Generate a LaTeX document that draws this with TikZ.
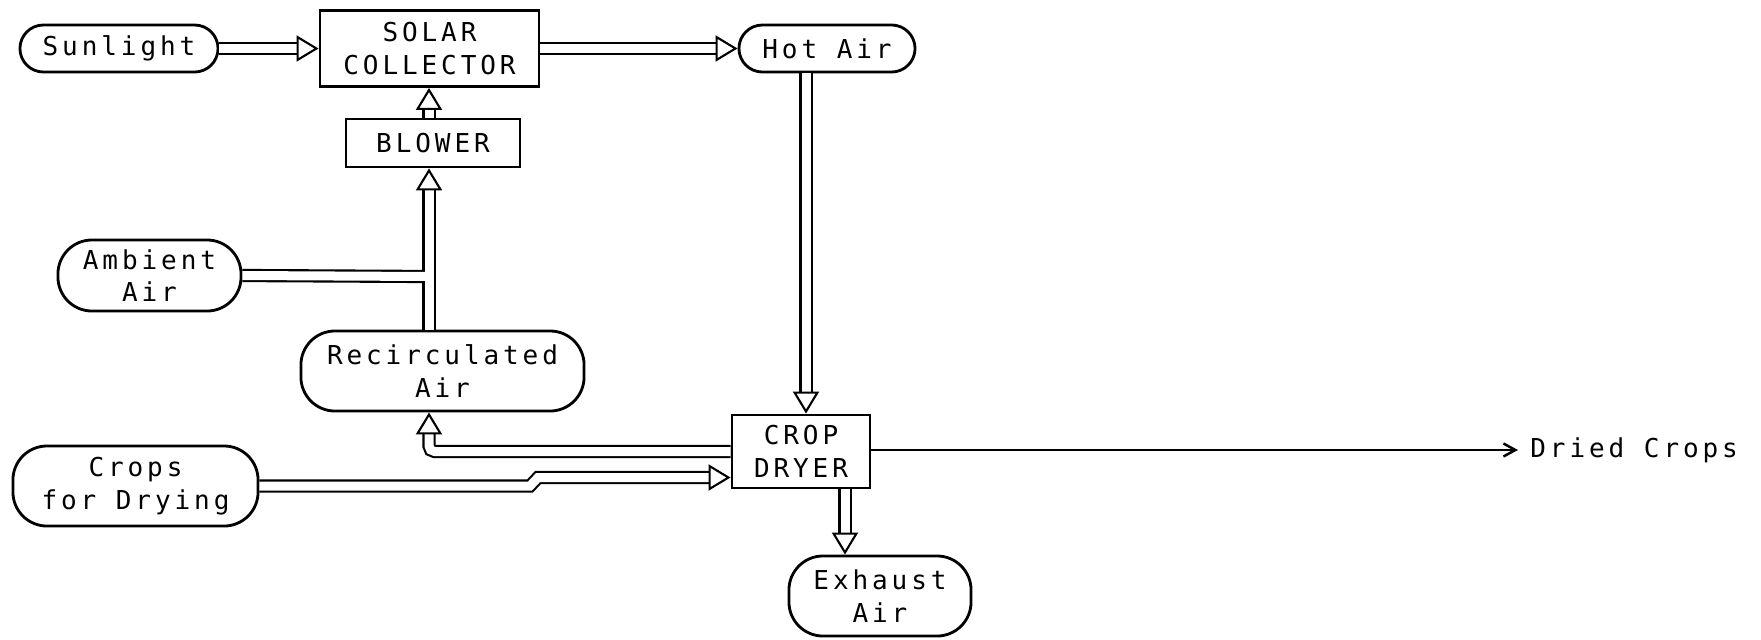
\documentclass[tikz,border=0pt]{standalone}
\usepackage{fontspec}
\newfontfamily\impfont[LetterSpace=15]{DejaVu Sans Mono}
\usetikzlibrary{arrows.meta}

\tikzset{
  caja/.style={draw, line width=0.8pt, rectangle, inner sep=0pt, align=center,
    font={\impfont\fontsize{7.4pt}{9.2pt}\selectfont}},
  capsula/.style={caja, rounded corners=0.34cm},
  pildora/.style={caja, rounded corners=0.235cm},
  tubo/.style={line width=0.6pt, double distance=0.09cm,
    -{Triangle[open, length=0.22cm, width=0.26cm]}},
}

\begin{document}
\begin{tikzpicture}[x=0.01cm, y=-0.01cm]
  \useasboundingbox (0,0) rectangle (1761,639);
  % --- bloques ---
  \node[pildora, minimum width=1.98cm, minimum height=0.47cm] (sol) at (119,48.5) {Sunlight};
  \node[caja, minimum width=2.19cm, minimum height=0.76cm] (colector) at (429.5,48.5) {SOLAR\\COLLECTOR};
  \node[pildora, minimum width=1.76cm, minimum height=0.47cm] (caliente) at (827,48.5) {Hot Air};
  \node[caja, minimum width=1.74cm, minimum height=0.48cm] (soplador) at (433,143) {BLOWER};
  \node[capsula, minimum width=1.83cm, minimum height=0.71cm] (ambiente) at (149.5,275.5) {Ambient\\Air};
  \node[capsula, minimum width=2.83cm, minimum height=0.80cm] (recirc) at (442.5,371) {Recirculated\\Air};
  \node[caja, minimum width=1.38cm, minimum height=0.73cm] (secador) at (801,451.5) {CROP\\DRYER};
  \node[capsula, minimum width=2.45cm, minimum height=0.80cm] (cosecha) at (135.5,486) {Crops\\for Drying};
  \node[capsula, minimum width=1.82cm, minimum height=0.80cm] (escape) at (880,596) {Exhaust\\Air};
  \node[caja, draw=none, anchor=west, inner xsep=0.11cm] (seco) at (1518,450) {Dried Crops};
  % columnas de los tubos verticales
  \coordinate (col) at (429,0);
  \coordinate (bajada) at (806,0);
  \coordinate (salida) at (845,0);
  \coordinate (union) at (429,276.5);
  \coordinate (escalon) at (538,477.5);
  % --- tubos ---
  \draw[tubo] (sol.east) -- (sol.east -| colector.west);
  \draw[tubo] (colector.east) -- (caliente.west);
  \draw[tubo] (soplador.north -| col) -- (colector.south -| col);
  \draw[tubo] (recirc.north -| col) -- (soplador.south -| col);
  % entrada de aire ambiente (union en T)
  \draw[line width=0.6pt, double distance=0.09cm] (ambiente.east) -- (union);
  \draw[white, line width=0.09cm] (union) ++(0,-14) -- ++(0,28);
  \draw[tubo] (caliente.south -| bajada) -- (secador.north -| bajada);
  \draw[tubo, rounded corners=0.055cm] (secador.west) -| (recirc.south -| col);
  \draw[tubo] (cosecha.east) -- (530,486) -- (escalon) -- (escalon -| secador.west);
  \draw[tubo] (secador.south -| salida) -- (escape.north -| salida);
  \draw[line width=0.7pt, -{Straight Barb[length=0.12cm, width=0.13cm]}] (secador.east |- seco.west) -- (seco.west);
\end{tikzpicture}
\end{document}
